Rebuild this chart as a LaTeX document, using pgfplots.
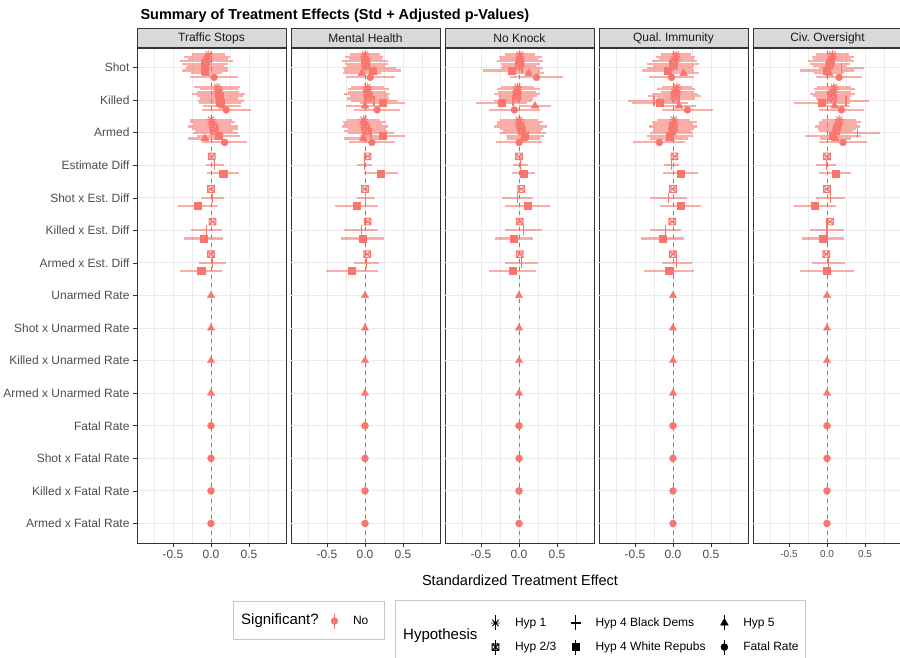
\documentclass[border=0pt]{standalone}
\usepackage{pgfplots}
\pgfplotsset{compat=1.18}
\usepackage{fontspec}
\setmainfont{Liberation Sans}
\frenchspacing
\definecolor{ptc}{HTML}{F8766D}
\definecolor{c10}{HTML}{1A1A1A}
\definecolor{c20}{HTML}{333333}
\definecolor{c30}{HTML}{4D4D4D}
\definecolor{c50}{HTML}{7F7F7F}
\definecolor{gridc}{HTML}{EBEBEB}
\definecolor{stripc}{HTML}{D9D9D9}
\definecolor{legc}{HTML}{C8C8C8}

\pgfdeclareplotmark{ast8}{%
 \pgfpathmoveto{\pgfqpoint{-\pgfplotmarksize}{0pt}}\pgfpathlineto{\pgfqpoint{\pgfplotmarksize}{0pt}}%
 \pgfpathmoveto{\pgfqpoint{0pt}{-\pgfplotmarksize}}\pgfpathlineto{\pgfqpoint{0pt}{\pgfplotmarksize}}%
 \pgfpathmoveto{\pgfqpoint{-.7071\pgfplotmarksize}{-.7071\pgfplotmarksize}}\pgfpathlineto{\pgfqpoint{.7071\pgfplotmarksize}{.7071\pgfplotmarksize}}%
 \pgfpathmoveto{\pgfqpoint{-.7071\pgfplotmarksize}{.7071\pgfplotmarksize}}\pgfpathlineto{\pgfqpoint{.7071\pgfplotmarksize}{-.7071\pgfplotmarksize}}%
 \pgfusepathqstroke}
\pgfdeclareplotmark{boxx}{%
 \pgfpathrectangle{\pgfqpoint{-\pgfplotmarksize}{-\pgfplotmarksize}}{\pgfqpoint{2\pgfplotmarksize}{2\pgfplotmarksize}}%
 \pgfpathmoveto{\pgfqpoint{-\pgfplotmarksize}{-\pgfplotmarksize}}\pgfpathlineto{\pgfqpoint{\pgfplotmarksize}{\pgfplotmarksize}}%
 \pgfpathmoveto{\pgfqpoint{-\pgfplotmarksize}{\pgfplotmarksize}}\pgfpathlineto{\pgfqpoint{\pgfplotmarksize}{-\pgfplotmarksize}}%
 \pgfusepathqstroke}
\pgfdeclareplotmark{plusm}{%
 \pgfpathmoveto{\pgfqpoint{-\pgfplotmarksize}{0pt}}\pgfpathlineto{\pgfqpoint{\pgfplotmarksize}{0pt}}%
 \pgfpathmoveto{\pgfqpoint{0pt}{-\pgfplotmarksize}}\pgfpathlineto{\pgfqpoint{0pt}{\pgfplotmarksize}}%
 \pgfusepathqstroke}

\pgfplotsset{
 panel/.style={
  scale only axis, width=149pt, height=495pt, anchor=north west,
  xmin=-0.974, xmax=0.987, ymin=0.4, ymax=15.6,
  xtick={-0.5,0,0.5}, xticklabels={-0.5,0.0,0.5},
  minor xtick={-0.75,-0.25,0.25,0.75},
  xmajorgrids, xminorgrids,
  major grid style={draw=gridc, line width=0.9pt},
  minor grid style={draw=gridc, line width=0.45pt},
  axis line style={draw=c20, line width=0.6pt},
  tick align=outside, major tick length=4pt, minor tick length=0pt,
  tick style={draw=c20, line width=0.6pt},
  xtick pos=left, ytick pos=left,
  xticklabel style={font=\fontsize{12}{14}\selectfont, text=c30},
  every axis title/.style={at={(0.5,1)}, anchor=south, fill=stripc, draw=c20, line width=0.6pt,
    minimum width=149pt, minimum height=19pt, inner sep=0pt, font=\fontsize{12}{14}\selectfont, text=c10},
 },
 firstp/.style={ytick={1,...,15}, ymajorgrids,
  yticklabels={Armed x Fatal Rate, Killed x Fatal Rate, Shot x Fatal Rate, Fatal Rate, Armed x Unarmed Rate, Killed x Unarmed Rate, Shot x Unarmed Rate, Unarmed Rate, Armed x Est. Diff, Killed x Est. Diff, Shot x Est. Diff, Estimate Diff, Armed, Killed, Shot},
  yticklabel style={font=\fontsize{12}{14}\selectfont, text=c30}},
 otherp/.style={ytick=\empty, extra y ticks={1,...,15}, extra y tick labels={},
  extra y tick style={grid=major, major tick length=0pt}},
 hypA/.style={only marks, color=ptc, mark=ast8, mark size=4.5pt, mark options={draw=ptc, line width=0.9pt},
  error bars/.cd, x dir=both, x explicit, error mark=none, error bar style={line width=2.1pt, draw=ptc, draw opacity=0.6}},
 hypB/.style={only marks, color=ptc, mark=boxx, mark size=3.3pt, mark options={draw=ptc, line width=1pt},
  error bars/.cd, x dir=both, x explicit, error mark=none, error bar style={line width=2.1pt, draw=ptc, draw opacity=0.6}},
 hypC/.style={only marks, color=ptc, line width=1.3pt, mark=|, mark size=5pt, mark options={draw=ptc, fill=ptc},
  error bars/.cd, x dir=both, x explicit, error mark=none, error bar style={line width=2.1pt, draw=ptc, draw opacity=0.6}},
 hypD/.style={only marks, color=ptc, mark=square*, mark size=3.6pt, mark options={draw=ptc, fill=ptc},
  error bars/.cd, x dir=both, x explicit, error mark=none, error bar style={line width=2.1pt, draw=ptc, draw opacity=0.6}},
 hypE/.style={only marks, color=ptc, mark=triangle*, mark size=4.5pt, mark options={draw=ptc, fill=ptc},
  error bars/.cd, x dir=both, x explicit, error mark=none, error bar style={line width=2.1pt, draw=ptc, draw opacity=0.6}},
 hypF/.style={only marks, color=ptc, mark=*, mark size=3.5pt, mark options={draw=ptc, fill=ptc},
  error bars/.cd, x dir=both, x explicit, error mark=none, error bar style={line width=2.1pt, draw=ptc, draw opacity=0.6}},
 zline/.style={c50, dash pattern=on 4pt off 4pt, line width=0.8pt, forget plot},
 legimg/.style={legend image code/.code={\draw[##1, line width=1.6pt] (0pt,-7.5pt) -- (0pt,7.5pt); \draw[##1] plot coordinates {(0pt,0pt)};}},
 legax/.style={hide axis, scale only axis, width=1pt, height=1pt, xmin=0, xmax=1, ymin=0, ymax=1, anchor=center,
  legend cell align=left,
  legend style={at={(0.5,0.5)}, anchor=west, draw=none, fill=none, inner sep=0pt, outer sep=0pt,
   row sep=7.5pt, column sep=13pt, font=\fontsize{12}{14}\selectfont, text=black}},
}

\begin{document}
\begin{tikzpicture}
\useasboundingbox (0,0) rectangle (900pt,-658pt);

% ---------------- Traffic Stops
\begin{axis}[panel, firstp, at={(137pt,-48pt)}, title={Traffic Stops}]
\addplot[zline] coordinates {(0,0.4) (0,15.6)};
\addplot[hypA] coordinates {(-0.03,15.40) +- (0.22,0) (-0.05,15.33) +- (0.30,0) (-0.04,15.26) +- (0.26,0) (0.08,14.40) +- (0.30,0) (0.10,14.33) +- (0.25,0) (0.09,14.26) +- (0.28,0) (0.00,13.40) +- (0.28,0) (0.02,13.33) +- (0.30,0) (0.01,13.26) +- (0.25,0)};
\addplot[hypB] coordinates {(-0.06,15.19) +- (0.35,0) (-0.08,15.12) +- (0.30,0) (-0.07,15.05) +- (0.24,0) (0.10,14.19) +- (0.35,0) (0.12,14.12) +- (0.30,0) (0.11,14.05) +- (0.25,0) (0.03,13.19) +- (0.33,0) (0.05,13.12) +- (0.30,0) (0.04,13.05) +- (0.25,0) (0.01,12.27) +- (0.04,0) (0.00,11.27) +- (0.04,0) (0.02,10.27) +- (0.04,0) (0.00,9.27) +- (0.04,0)};
\addplot[hypC] coordinates {(-0.05,14.98) +- (0.28,0) (0.13,13.98) +- (0.30,0) (0.06,12.98) +- (0.30,0) (0.05,12.0) +- (0.12,0) (0.02,11.0) +- (0.15,0) (-0.06,10.0) +- (0.20,0) (0.02,9.0) +- (0.18,0)};
\addplot[hypD] coordinates {(-0.08,14.91) +- (0.30,0) (0.12,13.91) +- (0.28,0) (0.10,12.91) +- (0.28,0) (0.16,11.75) +- (0.21,0) (-0.17,10.75) +- (0.26,0) (-0.10,9.75) +- (0.26,0) (-0.13,8.75) +- (0.28,0)};
\addplot[hypE] coordinates {(-0.06,14.82) +- (0.20,0) (0.15,13.82) +- (0.25,0) (-0.08,12.82) +- (0.22,0)};
\addplot[hypF] coordinates {(0.04,14.70) +- (0.32,0) (0.20,13.70) +- (0.32,0) (0.18,12.70) +- (0.30,0)};
\addplot[only marks, color=ptc, mark=triangle*, mark size=4.2pt] coordinates {(0,8) (0,7) (0,6) (0,5)};
\addplot[only marks, color=ptc, mark=*, mark size=3.5pt] coordinates {(0,4) (0,3) (0,2) (0,1)};
\end{axis}

% ---------------- Mental Health
\begin{axis}[panel, otherp, at={(291pt,-48pt)}, title={Mental Health}]
\addplot[zline] coordinates {(0,0.4) (0,15.6)};
\addplot[hypA] coordinates {(0.00,15.40) +- (0.20,0) (-0.01,15.33) +- (0.25,0) (0.01,15.26) +- (0.22,0) (0.03,14.40) +- (0.22,0) (0.04,14.33) +- (0.27,0) (0.02,14.26) +- (0.25,0) (-0.02,13.40) +- (0.22,0) (-0.01,13.33) +- (0.28,0) (-0.02,13.26) +- (0.25,0)};
\addplot[hypB] coordinates {(0.00,15.19) +- (0.30,0) (0.02,15.12) +- (0.28,0) (0.01,15.05) +- (0.25,0) (0.03,14.19) +- (0.30,0) (0.05,14.12) +- (0.25,0) (0.04,14.05) +- (0.28,0) (0.00,13.19) +- (0.30,0) (0.02,13.12) +- (0.25,0) (0.01,13.05) +- (0.28,0) (0.035,12.27) +- (0.04,0) (0.00,11.27) +- (0.04,0) (0.035,10.27) +- (0.04,0) (0.03,9.27) +- (0.04,0)};
\addplot[hypC] coordinates {(0.06,14.98) +- (0.35,0) (0.12,13.98) +- (0.30,0) (0.08,12.98) +- (0.30,0) (-0.01,12.0) +- (0.10,0) (0.01,11.0) +- (0.12,0) (-0.05,10.0) +- (0.22,0) (0.02,9.0) +- (0.17,0)};
\addplot[hypD] coordinates {(0.10,14.91) +- (0.37,0) (0.23,13.91) +- (0.30,0) (0.23,12.91) +- (0.30,0) (0.21,11.75) +- (0.22,0) (-0.11,10.75) +- (0.28,0) (-0.03,9.75) +- (0.28,0) (-0.17,8.75) +- (0.34,0)};
\addplot[hypE] coordinates {(-0.04,14.82) +- (0.25,0) (0.00,13.82) +- (0.25,0) (-0.02,12.82) +- (0.25,0)};
\addplot[hypF] coordinates {(0.07,14.70) +- (0.32,0) (0.16,13.70) +- (0.30,0) (0.09,12.70) +- (0.30,0)};
\addplot[only marks, color=ptc, mark=triangle*, mark size=4.2pt] coordinates {(0,8) (0,7) (0,6) (0,5)};
\addplot[only marks, color=ptc, mark=*, mark size=3.5pt] coordinates {(0,4) (0,3) (0,2) (0,1)};
\end{axis}

% ---------------- No Knock
\begin{axis}[panel, otherp, at={(445pt,-48pt)}, title={No Knock}]
\addplot[zline] coordinates {(0,0.4) (0,15.6)};
\addplot[hypA] coordinates {(0.01,15.40) +- (0.20,0) (0.02,15.33) +- (0.28,0) (0.00,15.26) +- (0.25,0) (-0.02,14.40) +- (0.22,0) (-0.01,14.33) +- (0.28,0) (-0.03,14.26) +- (0.25,0) (0.00,13.40) +- (0.25,0) (0.01,13.33) +- (0.30,0) (-0.01,13.26) +- (0.28,0)};
\addplot[hypB] coordinates {(0.01,15.19) +- (0.30,0) (0.02,15.12) +- (0.26,0) (0.00,15.05) +- (0.22,0) (-0.03,14.19) +- (0.30,0) (-0.02,14.12) +- (0.26,0) (-0.04,14.05) +- (0.22,0) (0.02,13.19) +- (0.35,0) (0.03,13.12) +- (0.28,0) (0.04,13.05) +- (0.25,0) (0.00,12.27) +- (0.04,0) (0.03,11.27) +- (0.04,0) (0.01,10.27) +- (0.04,0) (0.01,9.27) +- (0.04,0)};
\addplot[hypC] coordinates {(0.04,14.98) +- (0.28,0) (-0.08,13.98) +- (0.25,0) (0.05,12.98) +- (0.30,0) (0.02,12.0) +- (0.10,0) (-0.02,11.0) +- (0.20,0) (0.06,10.0) +- (0.24,0) (0.03,9.0) +- (0.22,0)};
\addplot[hypD] coordinates {(-0.10,14.91) +- (0.38,0) (-0.23,13.91) +- (0.34,0) (0.08,12.91) +- (0.25,0) (0.06,11.75) +- (0.15,0) (0.11,10.75) +- (0.30,0) (-0.07,9.75) +- (0.25,0) (-0.08,8.75) +- (0.31,0)};
\addplot[hypE] coordinates {(0.13,14.82) +- (0.20,0) (0.21,13.82) +- (0.21,0) (0.06,12.82) +- (0.22,0)};
\addplot[hypF] coordinates {(0.23,14.70) +- (0.35,0) (-0.06,13.70) +- (0.34,0) (0.00,12.70) +- (0.30,0)};
\addplot[only marks, color=ptc, mark=triangle*, mark size=4.2pt] coordinates {(0,8) (0,7) (0,6) (0,5)};
\addplot[only marks, color=ptc, mark=*, mark size=3.5pt] coordinates {(0,4) (0,3) (0,2) (0,1)};
\end{axis}

% ---------------- Qual. Immunity
\begin{axis}[panel, otherp, at={(599pt,-48pt)}, title={Qual. Immunity}]
\addplot[zline] coordinates {(0,0.4) (0,15.6)};
\addplot[hypA] coordinates {(0.04,15.40) +- (0.20,0) (0.03,15.33) +- (0.26,0) (0.05,15.26) +- (0.23,0) (0.05,14.40) +- (0.20,0) (0.04,14.33) +- (0.25,0) (0.06,14.26) +- (0.22,0) (0.01,13.40) +- (0.22,0) (0.02,13.33) +- (0.30,0) (0.00,13.26) +- (0.26,0)};
\addplot[hypB] coordinates {(0.02,15.19) +- (0.30,0) (0.00,15.12) +- (0.34,0) (0.01,15.05) +- (0.27,0) (0.03,14.19) +- (0.30,0) (0.02,14.12) +- (0.35,0) (0.04,14.05) +- (0.25,0) (0.00,13.19) +- (0.32,0) (0.01,13.12) +- (0.27,0) (-0.01,13.05) +- (0.25,0) (0.02,12.27) +- (0.04,0) (0.00,11.27) +- (0.04,0) (-0.01,10.27) +- (0.04,0) (0.00,9.27) +- (0.04,0)};
\addplot[hypC] coordinates {(-0.04,14.98) +- (0.30,0) (-0.25,13.98) +- (0.34,0) (-0.02,12.98) +- (0.28,0) (-0.02,12.0) +- (0.10,0) (-0.06,11.0) +- (0.24,0) (-0.10,10.0) +- (0.20,0) (0.05,9.0) +- (0.20,0)};
\addplot[hypD] coordinates {(-0.07,14.91) +- (0.34,0) (-0.17,13.91) +- (0.37,0) (-0.04,12.91) +- (0.30,0) (0.10,11.75) +- (0.23,0) (0.10,10.75) +- (0.27,0) (-0.14,9.75) +- (0.28,0) (-0.05,8.75) +- (0.33,0)};
\addplot[hypE] coordinates {(0.14,14.82) +- (0.20,0) (0.08,13.82) +- (0.22,0) (-0.05,12.82) +- (0.25,0)};
\addplot[hypF] coordinates {(-0.02,14.70) +- (0.30,0) (0.19,13.70) +- (0.34,0) (-0.18,12.70) +- (0.34,0)};
\addplot[only marks, color=ptc, mark=triangle*, mark size=4.2pt] coordinates {(0,8) (0,7) (0,6) (0,5)};
\addplot[only marks, color=ptc, mark=*, mark size=3.5pt] coordinates {(0,4) (0,3) (0,2) (0,1)};
\end{axis}

% ---------------- Civ. Oversight
\begin{axis}[panel, otherp, at={(753pt,-48pt)}, title={Civ. Oversight},
  xticklabel style={font=\fontsize{10}{12}\selectfont}]
\addplot[zline] coordinates {(0,0.4) (0,15.6)};
\addplot[hypA] coordinates {(0.07,15.40) +- (0.22,0) (0.08,15.33) +- (0.28,0) (0.06,15.26) +- (0.25,0) (0.09,14.40) +- (0.22,0) (0.10,14.33) +- (0.27,0) (0.08,14.26) +- (0.24,0) (0.16,13.40) +- (0.22,0) (0.17,13.33) +- (0.28,0) (0.15,13.26) +- (0.25,0)};
\addplot[hypB] coordinates {(0.05,15.19) +- (0.30,0) (0.04,15.12) +- (0.26,0) (0.03,15.05) +- (0.22,0) (0.07,14.19) +- (0.30,0) (0.06,14.12) +- (0.25,0) (0.08,14.05) +- (0.22,0) (0.14,13.19) +- (0.30,0) (0.13,13.12) +- (0.25,0) (0.12,13.05) +- (0.22,0) (0.00,12.27) +- (0.04,0) (0.00,11.27) +- (0.04,0) (0.04,10.27) +- (0.04,0) (-0.01,9.27) +- (0.04,0)};
\addplot[hypC] coordinates {(0.19,14.98) +- (0.30,0) (0.25,13.98) +- (0.30,0) (0.40,12.98) +- (0.30,0) (-0.01,12.0) +- (0.13,0) (0.05,11.0) +- (0.19,0) (0.00,10.0) +- (0.22,0) (0.02,9.0) +- (0.22,0)};
\addplot[hypD] coordinates {(0.00,14.91) +- (0.35,0) (-0.07,13.91) +- (0.37,0) (0.08,12.91) +- (0.37,0) (0.11,11.75) +- (0.21,0) (-0.16,10.75) +- (0.28,0) (-0.05,9.75) +- (0.28,0) (0.00,8.75) +- (0.35,0)};
\addplot[hypE] coordinates {(0.03,14.82) +- (0.20,0) (0.10,13.82) +- (0.20,0) (0.11,12.82) +- (0.20,0)};
\addplot[hypF] coordinates {(0.16,14.70) +- (0.30,0) (0.19,13.70) +- (0.30,0) (0.21,12.70) +- (0.32,0)};
\addplot[only marks, color=ptc, mark=triangle*, mark size=4.2pt] coordinates {(0,8) (0,7) (0,6) (0,5)};
\addplot[only marks, color=ptc, mark=*, mark size=3.5pt] coordinates {(0,4) (0,3) (0,2) (0,1)};
\end{axis}

% ---------------- titles
\node[anchor=base west, font=\bfseries\fontsize{14.5}{16}\selectfont, text=black] at (137pt,-19.5pt) {Summary of Treatment Effects (Std + Adjusted p-Values)};
\node[anchor=base, font=\fontsize{14.5}{16}\selectfont, text=black] at (520pt,-585pt) {Standardized Treatment Effect};

% ---------------- legend boxes and titles
\draw[legc, line width=0.8pt] (233pt,-601pt) rectangle (384pt,-639pt);
\draw[legc, line width=0.8pt] (395pt,-600pt) rectangle (805pt,-668pt);
\node[anchor=west, font=\fontsize{15}{17}\selectfont, inner sep=0pt] at (241pt,-621pt) {Significant?};
\node[anchor=west, font=\fontsize{15}{17}\selectfont, inner sep=0pt] at (403pt,-636pt) {Hypothesis};

\begin{axis}[legax, at={(331pt,-621pt)}]
\addlegendimage{legimg, color=ptc, mark=*, mark size=3.5pt, mark options={draw=ptc, fill=ptc}}
\addlegendentry{No}
\end{axis}
\begin{axis}[legax, at={(491pt,-635pt)}]
\addlegendimage{legimg, black, mark=ast8, mark size=4.5pt, mark options={line width=0.9pt}}
\addlegendentry{Hyp 1}
\addlegendimage{legimg, black, mark=boxx, mark size=3.3pt, mark options={line width=1pt}}
\addlegendentry{Hyp 2/3}
\end{axis}
\begin{axis}[legax, at={(570.5pt,-635pt)}]
\addlegendimage{legimg, black, mark=plusm, mark size=5pt, mark options={line width=1.2pt}}
\addlegendentry{Hyp 4 Black Dems}
\addlegendimage{legimg, black, mark=square*, mark size=3.6pt}
\addlegendentry{Hyp 4 White Repubs}
\end{axis}
\begin{axis}[legax, at={(720.5pt,-635pt)}]
\addlegendimage{legimg, black, mark=triangle*, mark size=4.5pt}
\addlegendentry{Hyp 5}
\addlegendimage{legimg, black, mark=*, mark size=3.5pt}
\addlegendentry{Fatal Rate}
\end{axis}
\end{tikzpicture}
\end{document}
